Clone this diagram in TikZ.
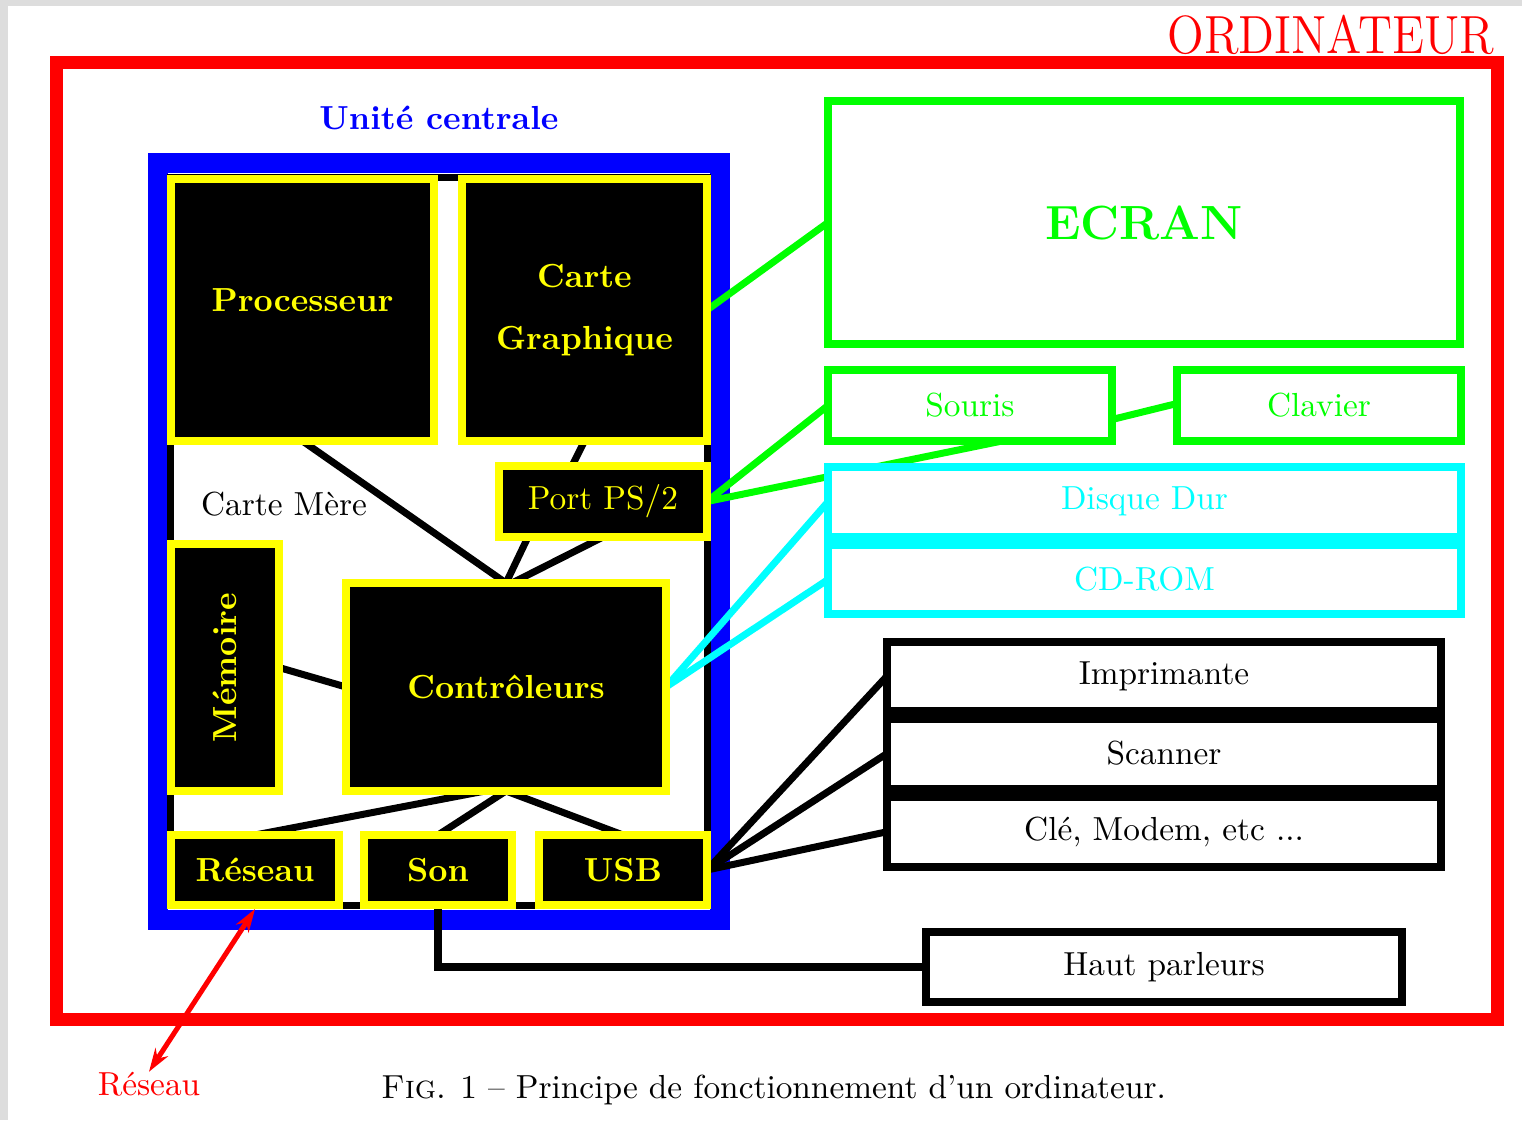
\documentclass[tikz,border=0pt]{standalone}
\usepackage{fontspec}
\usetikzlibrary{calc,arrows.meta}
\definecolor{vert}{RGB}{0,255,0}
\definecolor{cyanc}{RGB}{0,255,255}
\definecolor{jaune}{RGB}{255,255,0}
\definecolor{bleu}{RGB}{0,0,255}
\definecolor{rouge}{RGB}{255,0,0}
\definecolor{fond}{RGB}{221,221,221}
\pgfdeclarelayer{back}
\pgfdeclarelayer{lines}
\pgfsetlayers{back,lines,main}
\begin{document}
\begin{tikzpicture}[x=0.3pt,y=-0.3pt,
  frame/.style={rectangle,inner sep=0pt,outer sep=0pt},
  place/.style n args={4}{minimum width={(#3-#1)*0.3pt},minimum height={(#4-#2)*0.3pt},at={({(#1+#3)/2},{(#2+#4)/2})}},
  ybox/.style={frame,draw=jaune,fill=black,line width=2.4pt,text=jaune,font=\bfseries},
  ynbox/.style={frame,draw=jaune,fill=black,line width=2.4pt,text=jaune},
  gbox/.style={frame,draw=vert,fill=white,line width=2.4pt,text=vert},
  cbox/.style={frame,draw=cyanc,fill=white,line width=2.4pt,text=cyanc},
  kbox/.style={frame,draw=black,fill=white,line width=2.4pt,text=black},
  wire/.style={black,line width=2.1pt},
  gwire/.style={vert,line width=2.1pt},
  cwire/.style={cyanc,line width=2.1pt},
  lbl/.style={inner sep=0pt,outer sep=0pt}
]
\begin{pgfonlayer}{back}
\fill[fond] (0,0) rectangle (1522,1120);
\fill[white] (8,5.5) rectangle (1522,1120);
\node[frame,draw=rouge,line width=3.9pt,place={56.5}{62.5}{1497.5}{1019.5}] (ordi) {};
\node[frame,draw=bleu,fill=white,line width=6pt,place={158}{163}{720}{920}] (uc) {};
\node[frame,draw=black,line width=2.1pt,place={170.5}{177.5}{707.5}{905.5}] (cm) {};
\end{pgfonlayer}

% labels
\node[lbl,text=rouge,font=\Large,anchor=base east] (ordilbl) at (1494,53) {\scalebox{1}[1.12]{ORDINATEUR}};
\node[lbl,text=bleu,font=\bfseries,anchor=base] (uclbl) at (439,129) {Unité centrale};
\node[lbl,anchor=base] (cmlbl) at (284,515) {Carte Mère};
\node[lbl,text=rouge,anchor=base] (reslbl) at (149,1095) {Réseau};
\node[lbl,anchor=base] (caption) at (773.5,1098) {\textsc{Fig}. 1 -- Principe de fonctionnement d'un ordinateur.};

% yellow boxes
\node[ybox,text depth=6pt,place={171}{179}{434}{441}] (proc) {Processeur};
\node[ybox,align=center,place={462}{179}{707}{441}] (cg) {Carte\\[6.75pt]Graphique};
\node[ynbox,place={499}{466}{707}{537}] (ps2) {Port PS/2};
\node[ybox,place={171}{544}{279}{791}] (mem) {\rotatebox{90}{Mémoire}};
\node[ybox,place={346}{583}{666}{791}] (ctrl) {Contrôleurs};
\node[ybox,place={171}{835}{339}{905}] (res) {Réseau};
\node[ybox,place={364}{835}{512}{905}] (son) {Son};
\node[ybox,place={539}{835}{707}{905}] (usb) {USB};

% right side
\node[gbox,font=\Large\bfseries,place={828}{101}{1460}{344}] (ecran) {ECRAN};
\node[gbox,place={828}{370}{1112}{441}] (souris) {Souris};
\node[gbox,place={1177}{370}{1461}{441}] (clavier) {Clavier};
\node[cbox,place={828}{466.5}{1461}{537}] (dd) {Disque Dur};
\node[cbox,place={828}{545}{1461}{614}] (cd) {CD-ROM};
\node[kbox,place={887}{641.5}{1441}{710.5}] (impr) {Imprimante};
\node[kbox,place={887}{718.5}{1441}{788.5}] (scan) {Scanner};
\node[kbox,place={887}{796.5}{1441}{867}] (cle) {Clé, Modem, etc ...};
\node[kbox,place={926}{932}{1402}{1002}] (hp) {Haut parleurs};

\begin{pgfonlayer}{lines}
\draw[wire] (proc.south) -- (ctrl.north);
\draw[wire] (cg.south) -- ($(ps2.north)+(-31,0)$);
\draw[wire] ($(ps2.south)+(-75,0)$) -- (ctrl.north);
\draw[wire] (ps2.south) -- ($(ctrl.north)+(6,0)$);
\draw[wire] (mem.east) -- (ctrl.west);
\draw[wire] ($(ctrl.south)+(-21,0)$) -- (res.north);
\draw[wire] (ctrl.south) -- (son.north);
\draw[wire] (ctrl.south) -- (usb.north);
\draw[wire,line width=2.4pt] (son.south) |- (hp.west);
\draw[gwire] (cg.east) -- (ecran.west);
\draw[gwire] (ps2.east) -- (souris.west);
\draw[gwire] (ps2.east) -- ($(souris.south)+(32,0)$);
\draw[gwire] ($(souris.east)+(0,14)$) -- ($(clavier.west)+(0,-2)$);
\draw[cwire] (ctrl.east) -- (dd.west);
\draw[cwire] (ctrl.east) -- (cd.west);
\draw[wire] (usb.east) -- (impr.west);
\draw[wire] (usb.east) -- (scan.west);
\draw[wire] (usb.east) -- (cle.west);
\draw[rouge,line width=1.5pt,{Stealth[length=7pt,width=4.5pt]}-{Stealth[length=7pt,width=4.5pt]}] ($(res.south)+(0,4)$) -- (reslbl.north);
\end{pgfonlayer}
\end{tikzpicture}
\end{document}
